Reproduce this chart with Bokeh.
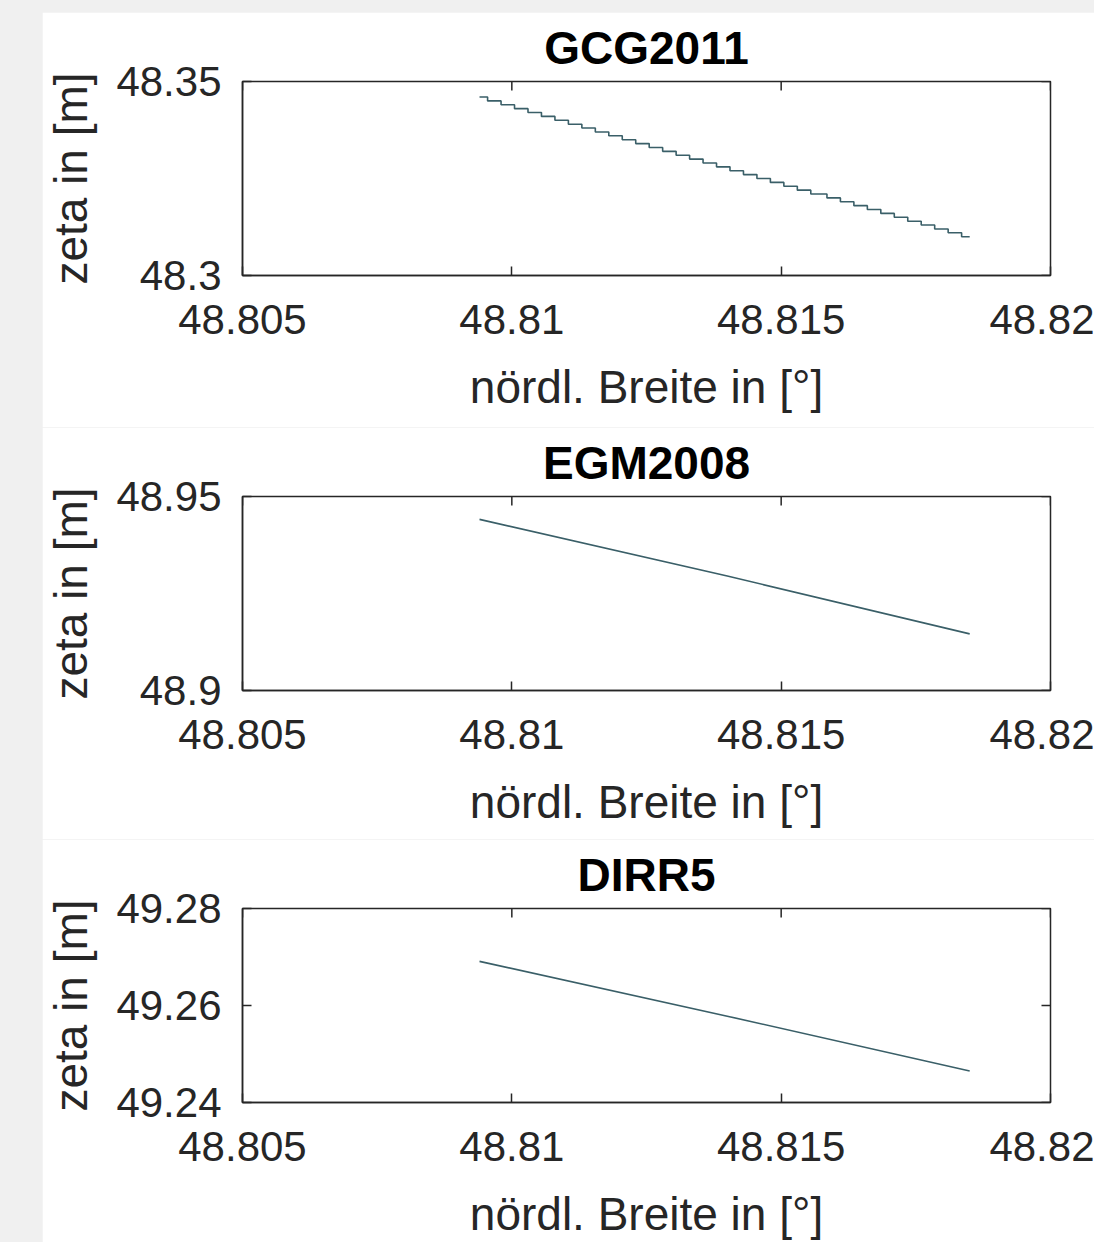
import math
from bokeh.plotting import figure
from bokeh.layouts import column, row
from bokeh.models import (Range1d, FixedTicker, CustomJSTickFormatter, Spacer)
from bokeh.embed import file_html
from bokeh.resources import INLINE

# ---------------- data ----------------
titles = ["GCG2011", "EGM2008", "DIRR5"]
x_label = "nördl. Breite in [°]"
y_label = "zeta in [m]"
x_ticks = [48.805, 48.81, 48.815, 48.82]

# GCG2011 (stair-stepped, values in mm resolution)
gcg_lat = [48.8094, 48.8097, 48.8099, 48.8102, 48.8104, 48.8107, 48.8109, 48.8112,
           48.8114, 48.8117, 48.8119, 48.8122, 48.8124, 48.8127, 48.8129, 48.8132,
           48.8134, 48.8137, 48.8139, 48.8142, 48.8144, 48.8147, 48.8149, 48.8152,
           48.8154, 48.8157, 48.8160, 48.8162, 48.8165, 48.8167, 48.8170, 48.8172,
           48.8175, 48.8177, 48.8180, 48.8182, 48.8185]
gcg_zeta = [48.346, 48.345, 48.344, 48.343, 48.342, 48.341, 48.340, 48.339,
            48.338, 48.337, 48.336, 48.335, 48.334, 48.333, 48.332, 48.331,
            48.330, 48.329, 48.328, 48.327, 48.326, 48.325, 48.324, 48.323,
            48.322, 48.321, 48.320, 48.319, 48.318, 48.317, 48.316, 48.315,
            48.314, 48.313, 48.312, 48.311, 48.310]
gcg_yrange = (48.30, 48.35)
gcg_yticks = [48.30, 48.35]

egm_lat = [48.8094, 48.8140, 48.8185]
egm_zeta = [48.9441, 48.9295, 48.9146]
egm_yrange = (48.90, 48.95)
egm_yticks = [48.90, 48.95]

dirr_lat = [48.8094, 48.8140, 48.8185]
dirr_zeta = [49.2691, 49.2578, 49.2465]
dirr_yrange = (49.24, 49.28)
dirr_yticks = [49.24, 49.26, 49.28]

# ---------------- styling ----------------
FONT = "Liberation Sans"
AX_COL = "#262626"
LINE_COL = "#3a5f68"

fmt_code = "return String(Number(tick.toPrecision(10)));"


def style_axis(ax):
    ax.axis_line_color = AX_COL
    ax.axis_line_width = 1.5
    ax.major_tick_line_color = AX_COL
    ax.major_tick_line_width = 1.5
    ax.major_tick_in = 9
    ax.major_tick_out = 0
    ax.minor_tick_line_color = None
    ax.major_label_text_font = FONT
    ax.axis_label_text_font = FONT
    ax.axis_label_text_font_style = "normal"
    ax.axis_label_text_color = AX_COL
    ax.major_label_text_color = AX_COL
    ax.major_label_text_font_size = "42px"
    ax.axis_label_text_font_size = "46px"


def make_fig(title, lat, zeta, yrange, yticks, height, top, bottom, stepped=False):
    p = figure(width=1052, height=height,
               x_range=Range1d(x_ticks[0], x_ticks[-1]),
               y_range=Range1d(*yrange),
               output_backend="svg", toolbar_location=None,
               min_border_left=198, min_border_right=44,
               min_border_top=top, min_border_bottom=bottom,
               background_fill_color="white", border_fill_color="white")
    p.title.text = title
    p.title.align = "center"
    p.title.text_font = FONT
    p.title.text_font_size = "46px"
    p.title.text_font_style = "bold"
    p.title.text_color = "#000000"
    p.title.standoff = 15
    p.xgrid.visible = False
    p.ygrid.visible = False
    p.outline_line_color = AX_COL
    p.outline_line_width = 1.5

    xa = p.xaxis[0]
    xa.ticker = FixedTicker(ticks=x_ticks)
    xa.formatter = CustomJSTickFormatter(code=fmt_code)
    xa.axis_label = x_label
    style_axis(xa)
    xa.major_label_standoff = 29
    xa.axis_label_standoff = 24

    ya = p.yaxis[0]
    ya.ticker = FixedTicker(ticks=yticks)
    ya.formatter = CustomJSTickFormatter(code=fmt_code)
    ya.axis_label = y_label
    style_axis(ya)
    ya.major_label_standoff = 21
    ya.axis_label_standoff = 16

    # inward ticks on the top and right box edges (clipped to the frame)
    p.scatter(x_ticks, [yrange[1]] * len(x_ticks), marker="dash", angle=math.pi / 2,
              size=18, line_color=AX_COL, line_width=1.5)
    p.scatter([x_ticks[-1]] * len(yticks), yticks, marker="dash",
              size=18, line_color=AX_COL, line_width=1.5)

    if stepped:
        p.step(lat, zeta, mode="center", line_color=LINE_COL, line_width=1.6)
    else:
        p.line(lat, zeta, line_color=LINE_COL, line_width=1.6)
    return p


f1 = make_fig(titles[0], gcg_lat, gcg_zeta, gcg_yrange, gcg_yticks, 415, 68, 152, stepped=True)
f2 = make_fig(titles[1], egm_lat, egm_zeta, egm_yrange, egm_yticks, 412, 68, 149)
f3 = make_fig(titles[2], dirr_lat, dirr_zeta, dirr_yrange, dirr_yticks, 403, 68, 140)

root = column(
    Spacer(width=1094, height=12),
    row(Spacer(width=42, height=1230), column(f1, f2, f3)),
    styles={"background-color": "#f0f0f0"},
)

open("out.html", "w").write(file_html(root, INLINE))
